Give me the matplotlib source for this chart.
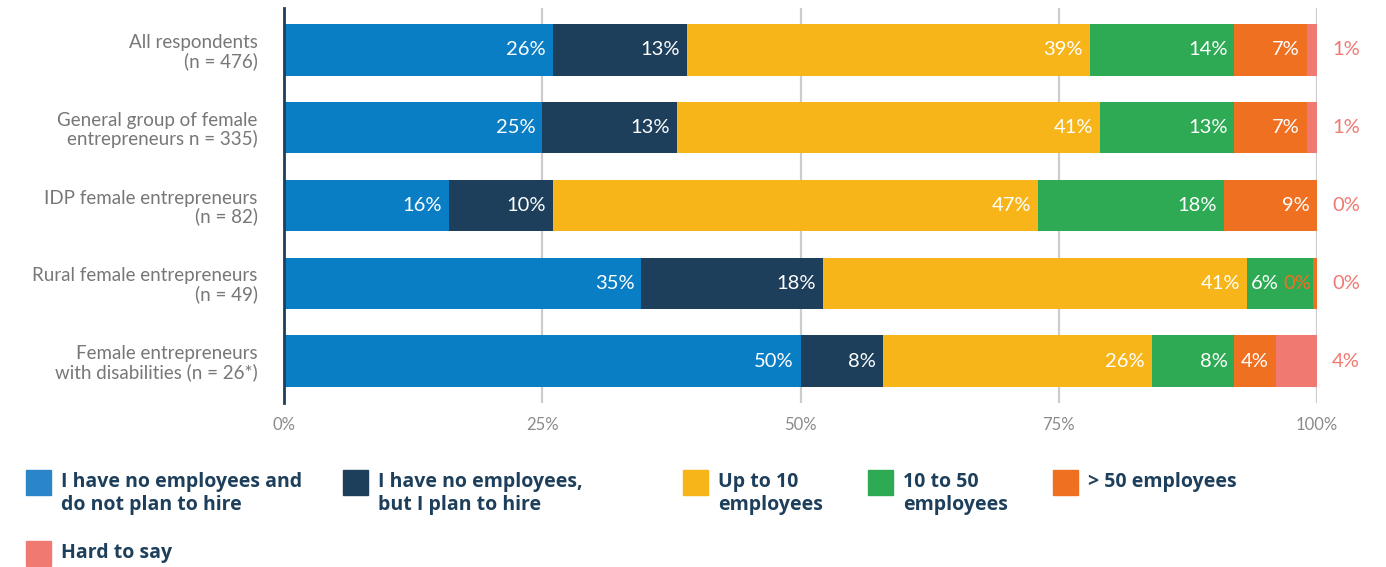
import matplotlib.pyplot as plt
from matplotlib.patches import Rectangle

plt.rcParams['font.family'] = ['Lato', 'DejaVu Sans']

# survey groups, top to bottom
groups = ['All respondents\n(n = 476)',
          'General group of female\nentrepreneurs n = 335)',
          'IDP female entrepreneurs\n(n = 82)',
          'Rural female entrepreneurs\n(n = 49)',
          'Female entrepreneurs\nwith disabilities (n = 26*)']

series = ['I have no employees and\ndo not plan to hire',
          'I have no employees,\nbut I plan to hire',
          'Up to 10\nemployees',
          '10 to 50\nemployees',
          '> 50 employees',
          'Hard to say']

no_plan = [26, 25, 16, 34.6, 50]
plan_hire = [13, 13, 10, 17.6, 8]
up_to_10 = [39, 41, 47, 41, 26]
from_10_to_50 = [14, 13, 18, 6.4, 8]
over_50 = [7, 7, 9, 0.4, 4]
hard_to_say = [1, 1, 0, 0, 4]

values = [no_plan, plan_hire, up_to_10, from_10_to_50, over_50, hard_to_say]
colors = ['#0a7ec5', '#1d3f5b', '#f7b519', '#2eaa55', '#f07022', '#f07a72']
legend_colors = ['#2a86c8', '#1d3f5b', '#f7b519', '#2eaa55', '#f07022', '#f07a72']
navy = '#1d3f5b'

W, H = 1386, 567
fig = plt.figure(figsize=(W / 100, H / 100), dpi=100)
ax = fig.add_axes([284 / W, 1 - 403 / H, (1317 - 284) / W, (403 - 8) / H])

ypos = list(range(len(groups)))
left = [0.0] * len(groups)
for k, (vals, col) in enumerate(zip(values, colors)):
    ax.barh(ypos, vals, left=left, height=0.66, color=col, zorder=3)
    for i, v in enumerate(vals):
        end = left[i] + v
        label = '{:.0f}%'.format(v)
        if k == len(values) - 1:
            # hard-to-say shares are written beside the bar
            ax.annotate(label, (100, i), xytext=(21, 0),
                        textcoords='offset points', ha='center', va='center',
                        fontsize=14.5, color=col)
        elif v < 1:
            # too thin for text inside: write it in the segment colour
            ax.annotate(label, (left[i], i), xytext=(-1, 0),
                        textcoords='offset points', ha='right', va='center',
                        fontsize=14.5, color=col, zorder=4)
        elif k + 1 < len(values) - 1 and 0 < values[k + 1][i] < 1:
            # neighbour label sits at the right, so this one goes left
            ax.annotate(label, (left[i], i), xytext=(3, 0),
                        textcoords='offset points', ha='left', va='center',
                        fontsize=14.5, color='white', zorder=4)
        else:
            ax.annotate(label, (end, i), xytext=(-5, 0),
                        textcoords='offset points', ha='right', va='center',
                        fontsize=14.5, color='white', zorder=4)
        left[i] = end

ax.set_xlim(0, 100)
ax.set_ylim(len(groups) - 0.46, -0.54)
ax.set_xticks([0, 25, 50, 75, 100])
ax.set_xticklabels(['0%', '25%', '50%', '75%', '100%'])
ax.set_yticks(ypos)
ax.set_yticklabels(groups, fontsize=13.5, color='#777777', linespacing=1.05)
ax.tick_params(axis='x', length=0, pad=10, labelsize=12, labelcolor='#8a8a8a')
ax.tick_params(axis='y', length=0, pad=19)
ax.grid(axis='x', color='#cccccc', linewidth=1.6, zorder=0)
for s in ['top', 'right', 'bottom']:
    ax.spines[s].set_visible(False)
ax.spines['left'].set_color(navy)
ax.spines['left'].set_linewidth(2)
ax.spines['left'].set_zorder(5)

# legend laid out by hand in figure pixels
legend_slots = [(26, 470), (343, 470), (683, 470), (868, 470), (1053, 470), (26, 541)]
for (px, py), name, col in zip(legend_slots, series, legend_colors):
    fig.patches.append(Rectangle((px / W, 1 - (py + 25) / H), 25 / W, 25 / H,
                                 transform=fig.transFigure, color=col))
    fig.text((px + 35) / W, 1 - (py + 2) / H, name, ha='left', va='top',
             family=['Open Sans', 'DejaVu Sans'], fontsize=14,
             fontweight='bold', color=navy, linespacing=1.2)

fig.savefig('out.png', dpi=100)
